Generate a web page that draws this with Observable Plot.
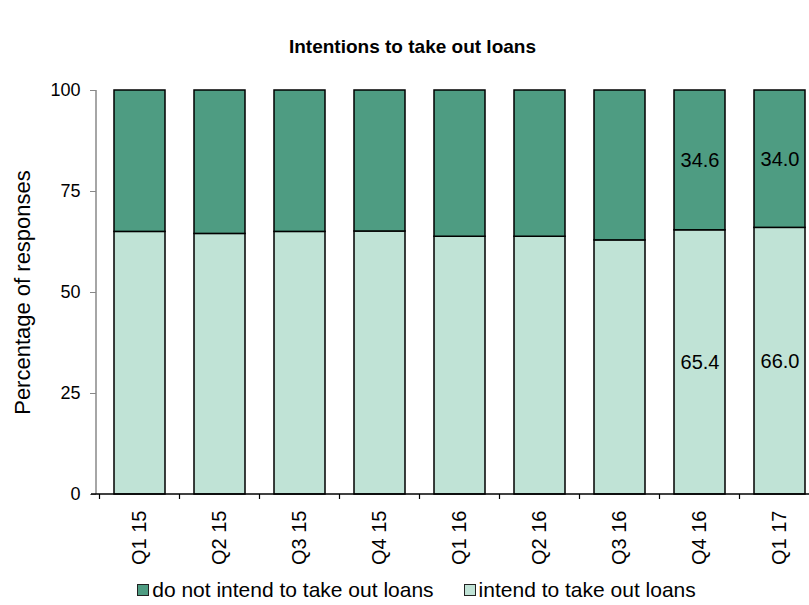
<!DOCTYPE html>
<html>
<head>
<meta charset="utf-8">
<script src="https://cdn.jsdelivr.net/npm/d3@7"></script>
<script src="https://cdn.jsdelivr.net/npm/@observablehq/plot@0.6"></script>
<style>
  body { margin: 0; background: #fff; font-family: Arial, "Liberation Sans", sans-serif; }
  #wrap { width: 809px; height: 605px; overflow: hidden; position: relative; }
  #title { height: 70px; line-height: 94px; text-align: center; font-weight: bold; font-size: 19px; color: #000; padding-left: 16px; box-sizing: border-box; }
  #legend { display: flex; justify-content: center; align-items: center; gap: 30px; font-size: 21px; line-height: 26px; height: 26px; color: #000; padding-left: 24px; margin-top: 2px; }
  .item { display: flex; align-items: center; gap: 3px; }
  .sw { width: 10px; height: 10px; border: 1px solid #222; display: inline-block; }
</style>
</head>
<body>
<div id="wrap">
  <div id="title">Intentions to take out loans</div>
  <div id="chart"></div>
  <div id="legend"></div>
</div>
<script>
const categories = ["Q1 15", "Q2 15", "Q3 15", "Q4 15", "Q1 16", "Q2 16", "Q3 16", "Q4 16", "Q1 17"];
const intend = [65.0, 64.5, 65.0, 65.1, 63.8, 63.8, 62.9, 65.4, 66.0];
const doNotIntend = intend.map(v => +(100 - v).toFixed(1));
const labelIntend = [null, null, null, null, null, null, null, 65.4, 66.0];
const labelDoNot = [null, null, null, null, null, null, null, 34.6, 34.0];
const yTicks = [0, 25, 50, 75, 100];
const seriesNames = ["do not intend to take out loans", "intend to take out loans"];
const colors = {"do not intend to take out loans": "#4e9c82", "intend to take out loans": "#c0e3d6"};

const rows = [];
categories.forEach((c, i) => {
  rows.push({q: c, series: seriesNames[1], value: intend[i], order: 0});
  rows.push({q: c, series: seriesNames[0], value: doNotIntend[i], order: 1});
});
const labels = [];
categories.forEach((c, i) => {
  if (labelIntend[i] != null) labels.push({q: c, y: labelIntend[i] / 2, text: labelIntend[i].toFixed(1)});
  if (labelDoNot[i] != null) labels.push({q: c, y: intend[i] + labelDoNot[i] / 2, text: labelDoNot[i].toFixed(1)});
});

const W = 809, ML = 96;
const step = 80.7;
const chart = Plot.plot({
  width: W,
  height: 505,
  marginTop: 20,
  marginBottom: 81,
  marginLeft: ML,
  marginRight: 0,
  style: {fontFamily: "Arial, 'Liberation Sans', sans-serif", fontSize: "20px", color: "#000", background: "#fff", overflow: "visible"},
  x: {domain: categories, range: [ML, ML + step * categories.length], paddingInner: 0.36, paddingOuter: 0.18, align: 0.5},
  y: {domain: [0, 100]},
  color: {domain: seriesNames, range: seriesNames.map(s => colors[s])},
  marks: [
    Plot.barY(rows, Plot.stackY({x: "q", y: "value", fill: "series", order: "order", stroke: "#000", strokeWidth: 1.5})),
    Plot.text(labels, {x: "q", y: "y", text: "text", fontSize: 20, fill: "#000"}),
    Plot.axisY({ticks: yTicks, tickSize: 6, tickPadding: 10, stroke: "#888", fontSize: 18, label: null}),
    Plot.axisY({ticks: [], tickSize: 0, fontSize: 22, label: "Percentage of responses", labelArrow: "none", labelAnchor: "center", labelOffset: 82}),
    Plot.axisX({tickSize: 0, tickRotate: -90, tickPadding: 16, fontSize: 20, label: null})
  ]
});
document.getElementById("chart").appendChild(chart);
chart.style.display = "block";

// axis lines and boundary ticks using the plot's own scales
const xs = chart.scale("x"), ys = chart.scale("y");
const svg = d3.select(chart);
const y0 = ys.apply(0), y100 = ys.apply(100);
svg.append("line").attr("x1", ML).attr("x2", ML).attr("y1", y100).attr("y2", y0).attr("stroke", "#888").attr("stroke-width", 1.5);
svg.append("line").attr("x1", ML - 5).attr("x2", W).attr("y1", y0).attr("y2", y0).attr("stroke", "#000").attr("stroke-width", 1.5);
const bw = xs.bandwidth;
const st = xs.apply(categories[1]) - xs.apply(categories[0]);
const gap = st - bw;
for (let i = 0; i <= categories.length; i++) {
  const bx = (i < categories.length ? xs.apply(categories[i]) : xs.apply(categories[i - 1]) + st) - gap / 2;
  svg.append("line").attr("x1", bx).attr("x2", bx).attr("y1", y0).attr("y2", y0 + 5).attr("stroke", "#000").attr("stroke-width", 1.2);
}

const lg = document.getElementById("legend");
seriesNames.forEach(s => {
  const it = document.createElement("span");
  it.className = "item";
  it.innerHTML = `<span class="sw" style="background:${colors[s]}"></span><span>${s}</span>`;
  lg.appendChild(it);
});
</script>
</body>
</html>
